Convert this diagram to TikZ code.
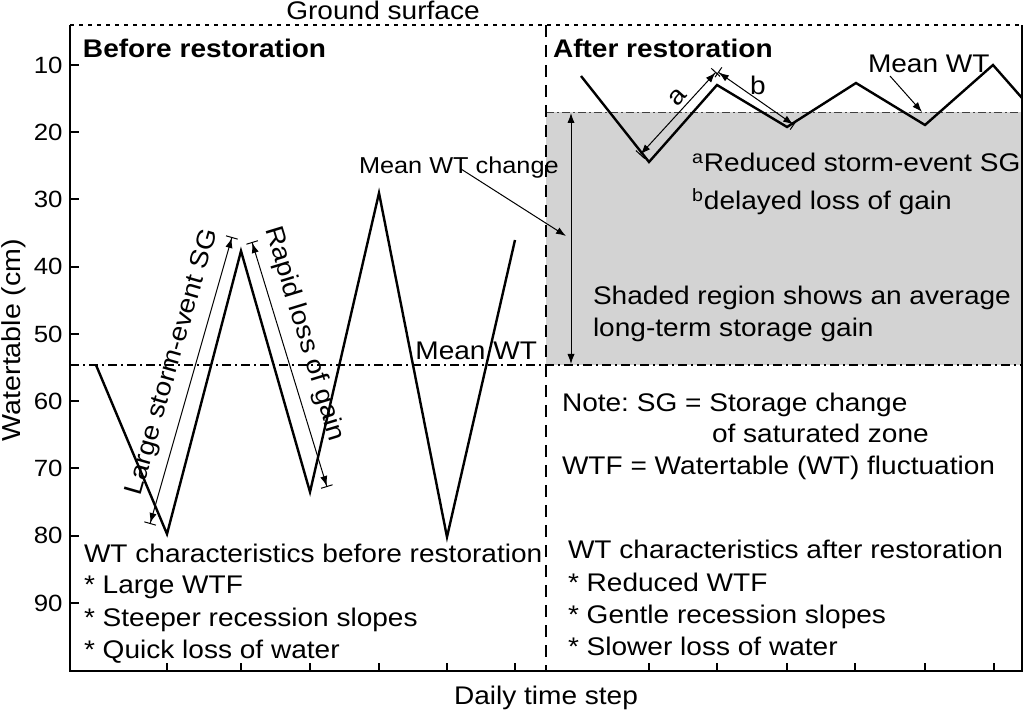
\documentclass[tikz,border=0pt]{standalone}
\usepackage{fontspec}
\setmainfont{Liberation Sans}[FakeStretch=1.1]
\usetikzlibrary{arrows.meta}
\definecolor{sgray}{RGB}{211,211,211}
\frenchspacing
\begin{document}
\begin{tikzpicture}[x=0.5pt,y=-0.5pt,
  lab/.style={font=\fontsize{12.75}{15}\selectfont, inner sep=0pt, outer sep=0pt},
  head/.style={font=\fontsize{12.75}{15}\selectfont\bfseries, inner sep=0pt, outer sep=0pt},
  small/.style={font=\fontsize{11.5}{14}\selectfont, inner sep=0pt, outer sep=0pt},
  ticklab/.style={font=\fontsize{11.75}{14}\selectfont, inner sep=0pt, anchor=east},
  axisline/.style={line width=1pt},
  wtline/.style={line width=1.2pt, line join=miter},
  ann/.style={line width=0.5pt},
  dbl/.style={ann, {Latex[length=5pt,width=3.6pt]}-{Latex[length=5pt,width=3.6pt]}},
  barred/.style={ann, {Bar[width=6pt]Latex[length=5pt,width=3.6pt]}-{Latex[length=5pt,width=3.6pt]Bar[width=6pt]}},
  oneway/.style={ann, -{Latex[length=5pt,width=3.6pt]}},
  meanline/.style={line width=0.9pt, dash pattern=on 4.5pt off 2pt on 1pt off 2pt},
  thinmean/.style={line width=0.45pt, black!75, dash pattern=on 4pt off 1.5pt on 1pt off 1.5pt},
  ground/.style={line width=0.9pt, dash pattern=on 2pt off 2.5pt},
  divider/.style={line width=0.8pt, dash pattern=on 6pt off 4pt}
]
\useasboundingbox (0,0) rectangle (1024,711);

% shaded storage gain region
\fill[sgray] (546,112) rectangle (1022,365);
\draw[thinmean] (546,112) -- (1022,112);

% axes frame
\draw[axisline] (70,25) -- (70,671) -- (1022,671) -- (1022,25);
\draw[ground] (70,25) -- (1022,25);
\draw[divider] (546,25) -- (546,671);
\draw[meanline] (70,365) -- (1022,365);

% y ticks and labels
\foreach \v in {10,20,...,90}{
  \draw[axisline] (70,{65+(\v-10)*6.725}) -- (79,{65+(\v-10)*6.725});
  \node[ticklab] (t\v) at (63,{65+(\v-10)*6.725}) {\v};
}
% x ticks
\foreach \x in {167,241,310,379,447,515,649,717,787,855,925,994}{
  \draw[axisline] (\x,671) -- (\x,663);
}

% watertable traces
\draw[wtline] (96,365) -- (167,534) -- (241,251) -- (310,492) -- (379,193) -- (447,537) -- (515,240);
\draw[wtline] (581,76) -- (649,162) -- (717,85) -- (787,127) -- (856,83) -- (925,125) -- (993,65) -- (1022,98);

% axis labels and titles
\node[lab, anchor=base] (ground) at (383,20) {Ground surface};
\node[lab, anchor=base] (xlab) at (546,704) {Daily time step};
\node[lab, font=\fontsize{13}{15}\selectfont, rotate=90] (ylab) at (14,340) {Watertable (cm)};
\node[head, anchor=base west] (before) at (83,58) {Before restoration};
\node[head, anchor=base west] (after) at (553,58) {After restoration};

% left annotations
\coordinate (lsA) at (150,524);
\coordinate (lsB) at (232,237);
\draw[barred] (lsA) -- (lsB);
\node[lab, rotate=74] (lstext) at (173,362) {Large storm-event SG};
\coordinate (rlA) at (252,242);
\coordinate (rlB) at (327,487);
\draw[barred] (rlA) -- (rlB);
\node[lab, rotate=-73] (rltext) at (304,334) {Rapid loss of gain};
\node[lab, anchor=base east] (meanL) at (537,360) {Mean WT};

% mean WT change
\node[small, anchor=base west] (mwc) at (359,174) {Mean WT change};
\coordinate (mwcS) at (461,169);
\coordinate (mwcE) at (566,236);
\draw[oneway] (mwcS) -- (mwcE);
\coordinate (gTop) at (571,113);
\coordinate (gBot) at (571,364);
\draw[dbl] (gTop) -- (gBot);

% right annotations
\coordinate (aA) at (640,155);
\coordinate (aB) at (716,72);
\draw[barred] (aA) -- (aB);
\node[lab, rotate=48] (alab) at (678,97) {a};
\coordinate (bA) at (718,72);
\coordinate (bB) at (794,125);
\draw[barred] (bA) -- (bB);
\node[lab] (blab) at (758,85) {b};
\node[lab, anchor=base west] (meanR) at (868,73) {Mean WT};
\coordinate (mrS) at (890,76);
\coordinate (mrE) at (922,112);
\draw[oneway] (mrS) -- (mrE);

\node[lab, anchor=base west] (redsg) at (692,172) {\textsuperscript{a}Reduced storm-event SG};
\node[lab, anchor=base west] (delay) at (692,210) {\textsuperscript{b}delayed loss of gain};
\node[lab, anchor=base west] (shade1) at (593,305) {Shaded region shows an average};
\node[lab, anchor=base west] (shade2) at (593,337) {long-term storage gain};

\node[lab, anchor=base west] (note1) at (562,412) {Note: SG = Storage change};
\node[lab, anchor=base west] (note2) at (712,443) {of saturated zone};
\node[lab, anchor=base west] (note3) at (562,474) {WTF = Watertable (WT) fluctuation};

% characteristics
\node[lab, anchor=base west] (bc1) at (84,562) {WT characteristics before restoration};
\node[lab, anchor=base west] (bc2) at (84,594) {* Large WTF};
\node[lab, anchor=base west] (bc3) at (84,626) {* Steeper recession slopes};
\node[lab, anchor=base west] (bc4) at (84,658) {* Quick loss of water};
\node[lab, anchor=base west] (ac1) at (568,559) {WT characteristics after restoration};
\node[lab, anchor=base west] (ac2) at (568,591) {* Reduced WTF};
\node[lab, anchor=base west] (ac3) at (568,623) {* Gentle recession slopes};
\node[lab, anchor=base west] (ac4) at (568,655) {* Slower loss of water};
\end{tikzpicture}
\end{document}
